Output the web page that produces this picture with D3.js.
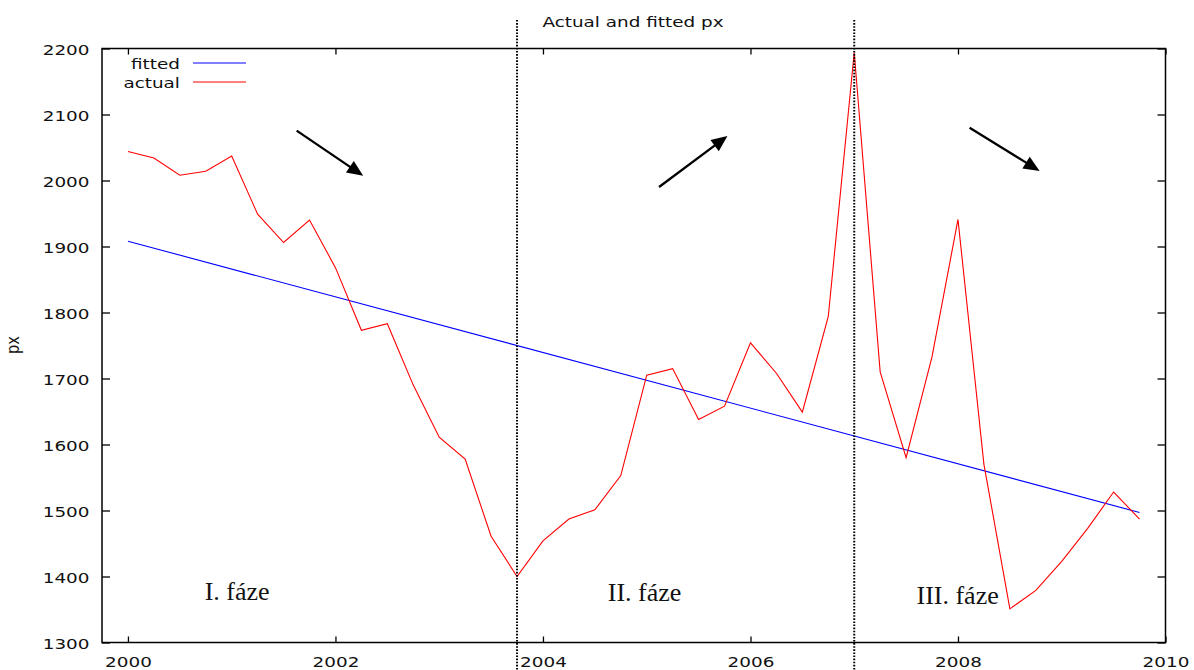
<!DOCTYPE html>
<html>
<head>
<meta charset="utf-8">
<script src="https://cdn.jsdelivr.net/npm/d3@7"></script>
<style>
  body { margin: 0; background: #fff; }
  svg text { font-family: "DejaVu Sans", Verdana, sans-serif; fill: #111; }
</style>
</head>
<body>
<div id="chart"></div>
<script>
// quarterly values
var years = [2000, 2000.25, 2000.5, 2000.75, 2001, 2001.25, 2001.5, 2001.75,
  2002, 2002.25, 2002.5, 2002.75, 2003, 2003.25, 2003.5, 2003.75,
  2004, 2004.25, 2004.5, 2004.75, 2005, 2005.25, 2005.5, 2005.75,
  2006, 2006.25, 2006.5, 2006.75, 2007, 2007.25, 2007.5, 2007.75,
  2008, 2008.25, 2008.5, 2008.75, 2009, 2009.25, 2009.5, 2009.75];
var actual = [2044, 2034, 2008, 2014, 2037, 1949, 1906, 1940,
  1868, 1773, 1783, 1690, 1611, 1578, 1461, 1400,
  1454, 1487, 1501, 1553, 1705, 1715, 1638, 1658,
  1754, 1708, 1649, 1794, 2194, 1710, 1580, 1733,
  1941, 1570, 1351, 1379, 1423, 1473, 1528, 1487];

// fitted trend line (end points)
var fitYears = [2000, 2009.75];
var fitted = [1908, 1497];

var xTicks = [2000, 2002, 2004, 2006, 2008, 2010];
var yTicks = [1300, 1400, 1500, 1600, 1700, 1800, 1900, 2000, 2100, 2200];

// phase breaks and labels
var phaseBreaks = [2003.75, 2007];
var phaseNames = ["I. fáze", "II. fáze", "III. fáze"];
var phaseYears = [2000.74, 2004.625, 2007.6];
var phaseValues = [1364, 1363, 1358];

// arrows: tail year, tail value, head year, head value
var arrowFrom = [[2001.626, 2075.5], [2005.119, 1990.2], [2008.112, 2080]];
var arrowTo = [[2002.267, 2007.3], [2005.778, 2067.4], [2008.787, 2014.4]];

var svgWidth = 1194;
var svgHeight = 670;
var margin = { top: 48.5, right: 28.5, bottom: 27.5, left: 102 };
var width = svgWidth - margin.left - margin.right;
var height = svgHeight - margin.top - margin.bottom;
var sx = 1.26; // gnuplot text looks stretched sideways

var svg = d3.select("#chart")
  .append("svg")
  .attr("width", svgWidth)
  .attr("height", svgHeight);

var chartGroup = svg.append("g")
  .attr("transform", `translate(${margin.left}, ${margin.top})`);

var x = d3.scaleLinear().domain([1999.75, 2010]).range([0, width]);
var y = d3.scaleLinear().domain([1300, 2200]).range([height, 0]);

// Axes with inward ticks, mirrored top and right
var bottomAxis = d3.axisBottom(x).tickValues(xTicks).tickFormat(d3.format("d"))
  .tickSize(-6).tickSizeOuter(0);
var topAxis = d3.axisTop(x).tickValues(xTicks).tickFormat("")
  .tickSize(-6).tickSizeOuter(0);
var leftAxis = d3.axisLeft(y).tickValues(yTicks).tickFormat(d3.format("d"))
  .tickSize(-8).tickSizeOuter(0);
var rightAxis = d3.axisRight(y).tickValues(yTicks).tickFormat("")
  .tickSize(-8).tickSizeOuter(0);

var gx = chartGroup.append("g").attr("transform", `translate(0, ${height})`).call(bottomAxis);
chartGroup.append("g").call(topAxis);
var gy = chartGroup.append("g").call(leftAxis);
chartGroup.append("g").attr("transform", `translate(${width}, 0)`).call(rightAxis);

chartGroup.selectAll(".domain").remove();
chartGroup.selectAll(".tick line").attr("stroke", "#000").attr("stroke-width", 1.3);

gx.selectAll("text")
  .attr("y", 24.5).attr("dy", 0)
  .attr("transform", `scale(${sx},1)`)
  .style("font-size", "14.6px");

gy.selectAll("text")
  .attr("x", -12.5 / sx).attr("dy", 5.8)
  .attr("transform", `scale(${sx},1)`)
  .style("font-size", "14.6px");

// frame
chartGroup.append("rect")
  .attr("width", width)
  .attr("height", height)
  .attr("fill", "none")
  .attr("stroke", "#000")
  .attr("stroke-width", 1.5);

// fitted line
var line = d3.line()
  .x(d => x(d[0]))
  .y(d => y(d[1]));

chartGroup.append("path")
  .datum(d3.zip(fitYears, fitted))
  .attr("d", line)
  .attr("fill", "none")
  .attr("stroke", "#0000ff")
  .attr("stroke-width", 1.1);

// actual line
chartGroup.append("path")
  .datum(d3.zip(years, actual))
  .attr("d", line)
  .attr("fill", "none")
  .attr("stroke", "#ff0000")
  .attr("stroke-width", 1.1);

// dotted phase breaks, running past the frame
chartGroup.selectAll(".break")
  .data(phaseBreaks)
  .enter()
  .append("line")
  .attr("class", "break")
  .attr("x1", d => x(d))
  .attr("x2", d => x(d))
  .attr("y1", 20 - margin.top)
  .attr("y2", height + margin.bottom)
  .attr("stroke", "#000")
  .attr("stroke-width", 2)
  .attr("stroke-dasharray", "1.6,1.5");

// arrows
arrowFrom.forEach(function(a, i) {
  var b = arrowTo[i];
  var x0 = x(a[0]), y0 = y(a[1]), x1 = x(b[0]), y1 = y(b[1]);
  var dx = x1 - x0, dy = y1 - y0;
  var len = Math.sqrt(dx * dx + dy * dy);
  var ux = dx / len, uy = dy / len;
  var headLen = 16, headW = 7;
  var bx = x1 - ux * headLen, by = y1 - uy * headLen;
  chartGroup.append("line")
    .attr("x1", x0).attr("y1", y0)
    .attr("x2", bx + ux * 2).attr("y2", by + uy * 2)
    .attr("stroke", "#000")
    .attr("stroke-width", 2.3);
  chartGroup.append("path")
    .attr("d", `M${x1},${y1}L${bx - uy * headW},${by + ux * headW}L${bx + uy * headW},${by - ux * headW}Z`)
    .attr("fill", "#000");
});

// phase labels
chartGroup.selectAll(".phase")
  .data(phaseNames)
  .enter()
  .append("text")
  .attr("class", "phase")
  .attr("x", (d, i) => x(phaseYears[i]))
  .attr("y", (d, i) => y(phaseValues[i]))
  .style("font-family", "'Liberation Serif', 'Times New Roman', serif")
  .style("font-size", "26px")
  .text(d => d);

// legend
var legend = [["fitted", "#0000ff"], ["actual", "#ff0000"]];
legend.forEach(function(d, i) {
  var ly = 63 + i * 19 - margin.top;
  chartGroup.append("text")
    .attr("x", (180 - margin.left) / sx)
    .attr("y", ly + 6.5)
    .attr("transform", `scale(${sx},1)`)
    .style("text-anchor", "end")
    .style("font-size", "14.6px")
    .text(d[0]);
  chartGroup.append("line")
    .attr("x1", 193 - margin.left)
    .attr("x2", 246 - margin.left)
    .attr("y1", ly)
    .attr("y2", ly)
    .attr("stroke", d[1])
    .attr("stroke-width", 1.1);
});

// title
svg.append("text")
  .attr("x", 633 / sx)
  .attr("y", 27)
  .attr("transform", `scale(${sx},1)`)
  .style("text-anchor", "middle")
  .style("font-size", "14.6px")
  .text("Actual and fitted px");

// y axis label
svg.append("text")
  .attr("transform", "translate(18.5, 345) rotate(-90) scale(1," + sx + ")")
  .style("text-anchor", "middle")
  .style("font-size", "14.6px")
  .text("px");
</script>
</body>
</html>
